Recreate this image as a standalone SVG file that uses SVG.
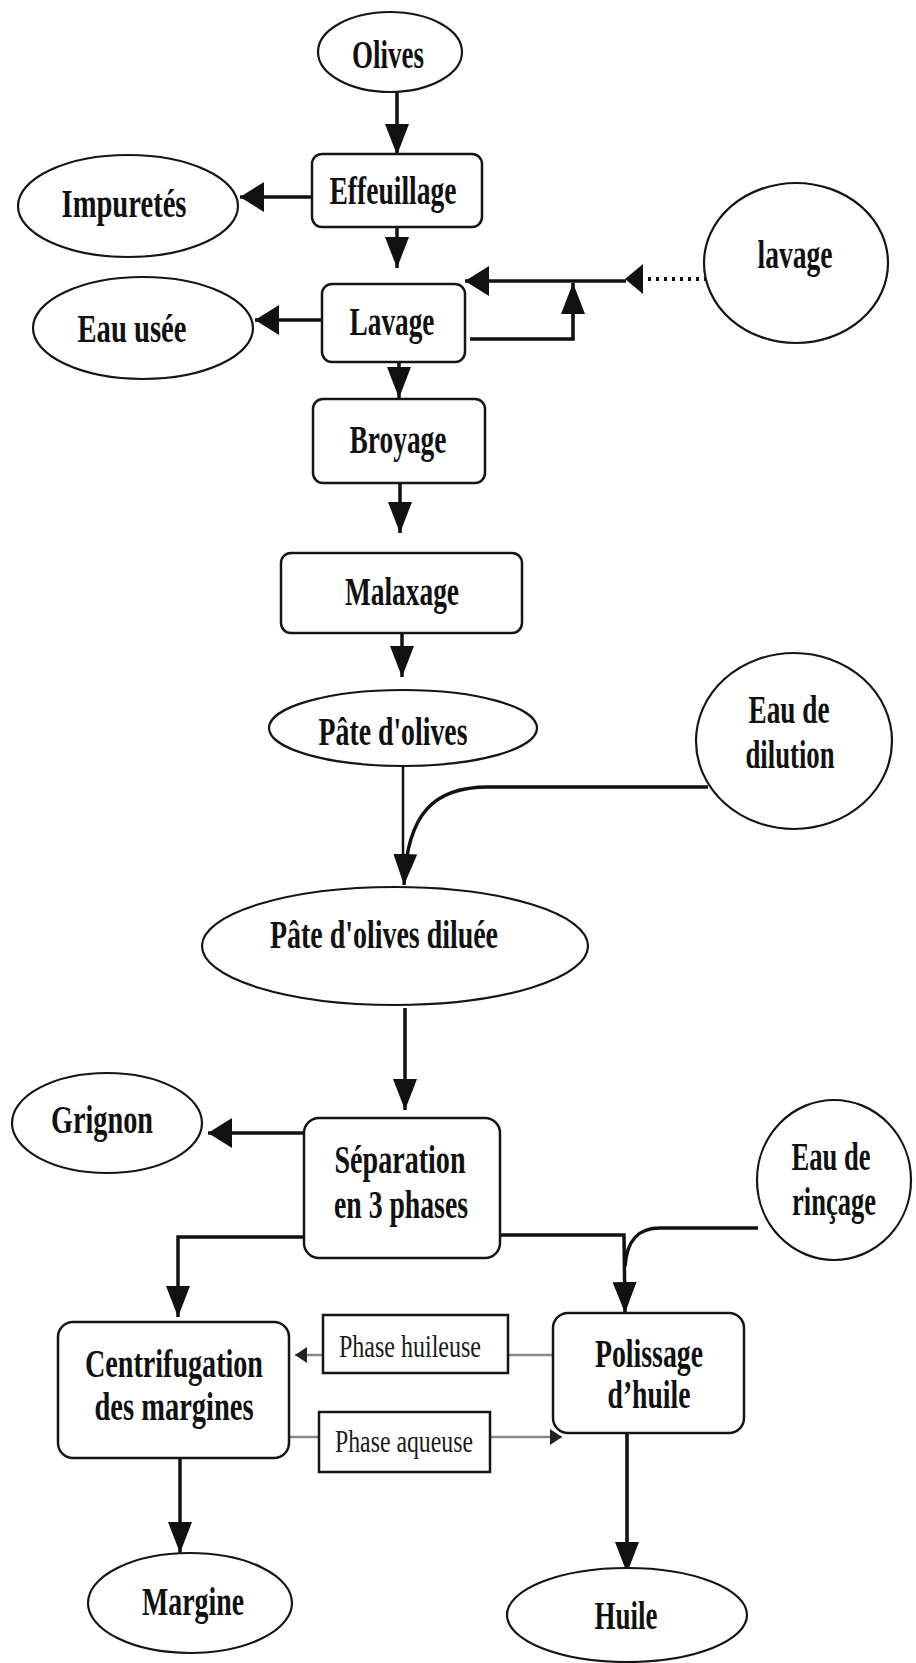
<svg xmlns="http://www.w3.org/2000/svg" width="916" height="1663" viewBox="0 0 916 1663">
<style>
  .n { fill: #fff; stroke: #151515; stroke-width: 2.5; }
  .e { fill: #fff; stroke: #151515; stroke-width: 2.2; }
  .t { font-family: "Liberation Serif", "Times New Roman", serif; font-weight: bold; font-size: 40px; fill: #111; text-anchor: middle; }
  .s { font-family: "Liberation Serif", "Times New Roman", serif; font-size: 31px; fill: #1a1a1a; text-anchor: middle; }
  .c { fill: none; stroke: #111; stroke-width: 3.5; }
  .th { fill: none; stroke: #111; stroke-width: 2.5; }
  .g { fill: none; stroke: #888; stroke-width: 2.5; }
  .d { fill: none; stroke: #111; stroke-width: 4; stroke-dasharray: 3 5; }
</style>
<defs>
  <marker id="av" markerUnits="userSpaceOnUse" markerWidth="32" markerHeight="26" refX="31" refY="12" orient="auto">
    <path d="M0,0 L31,12 L0,24 Z" fill="#111"/>
  </marker>
  <marker id="ah" markerUnits="userSpaceOnUse" markerWidth="26" markerHeight="32" refX="24" refY="15" orient="auto">
    <path d="M0,0 L24,15 L0,30 Z" fill="#111"/>
  </marker>
  <marker id="as" markerUnits="userSpaceOnUse" markerWidth="14" markerHeight="16" refX="12" refY="8" orient="auto">
    <path d="M0,0 L12,8 L0,16 Z" fill="#222"/>
  </marker>
</defs>

<g id="connectors">
  <line class="c" x1="397" y1="92" x2="397" y2="155" marker-end="url(#av)"/>
  <line class="c" x1="312" y1="197" x2="240" y2="197" marker-end="url(#ah)"/>
  <line class="c" x1="397" y1="222" x2="397" y2="268" marker-end="url(#av)"/>
  <line class="c" x1="322" y1="320" x2="255" y2="320" marker-end="url(#ah)"/>
  <line class="d" x1="715" y1="279" x2="645" y2="279"/>
  <path d="M643,264 L625,279 L643,294 Z" fill="#111"/>
  <line class="c" x1="626" y1="281" x2="465" y2="281" marker-end="url(#ah)"/>
  <polyline class="c" points="470,339 573,339 573,283" marker-end="url(#av)"/>
  <line class="c" x1="399" y1="362" x2="399" y2="398" marker-end="url(#av)"/>
  <line class="c" x1="400" y1="483" x2="400" y2="533" marker-end="url(#av)"/>
  <line class="c" x1="402" y1="627" x2="402" y2="677" marker-end="url(#av)"/>
  <line class="th" x1="403" y1="767" x2="403" y2="860"/>
  <path class="c" d="M708,787 L488,787 C435,787 407,812 404,885" stroke-width="4.5" marker-end="url(#av)"/>
  <line class="c" x1="405" y1="1008" x2="405" y2="1110" marker-end="url(#av)"/>
  <line class="c" x1="304" y1="1133" x2="208" y2="1133" marker-end="url(#ah)"/>
  <polyline class="c" points="304,1237 178,1237 178,1317" marker-end="url(#av)"/>
  <polyline class="c" points="500,1235 624,1235 625,1313" marker-end="url(#av)"/>
  <path class="c" d="M758,1228 L660,1228 C638,1228 627,1240 625,1266"/>
  <line class="g" x1="553" y1="1355" x2="508" y2="1355"/>
  <line class="g" x1="323" y1="1355" x2="295" y2="1355" marker-end="url(#as)"/>
  <line class="g" x1="289" y1="1437" x2="319" y2="1437"/>
  <line class="g" x1="490" y1="1437" x2="562" y2="1437" marker-end="url(#as)"/>
  <line class="c" x1="180" y1="1458" x2="180" y2="1553" marker-end="url(#av)"/>
  <line class="c" x1="627" y1="1433" x2="627" y2="1573" marker-end="url(#av)"/>
</g>

<g id="olives"><ellipse class="e" cx="390" cy="52" rx="72" ry="40"/><text class="t" x="388" y="68" textLength="72" lengthAdjust="spacingAndGlyphs">Olives</text></g>
<g id="effeuillage"><rect class="n" x="312" y="154" width="170" height="73" rx="10"/><text class="t" x="393" y="204" textLength="127" lengthAdjust="spacingAndGlyphs">Effeuillage</text></g>
<g id="impuretes"><ellipse class="e" cx="128" cy="206" rx="110" ry="51"/><text class="t" x="124" y="217" textLength="125" lengthAdjust="spacingAndGlyphs">Impuretés</text></g>
<g id="lavage-box"><rect class="n" x="322" y="284" width="143" height="78" rx="10"/><text class="t" x="392" y="335" textLength="85" lengthAdjust="spacingAndGlyphs">Lavage</text></g>
<g id="eau-usee"><ellipse class="e" cx="143" cy="328" rx="110" ry="51"/><text class="t" x="132" y="342" font-size="42" textLength="109" lengthAdjust="spacingAndGlyphs">Eau usée</text></g>
<g id="lavage-water"><ellipse class="e" cx="796" cy="263" rx="92" ry="80"/><text class="t" x="795" y="268" textLength="75" lengthAdjust="spacingAndGlyphs">lavage</text></g>
<g id="broyage"><rect class="n" x="313" y="399" width="172" height="84" rx="10"/><text class="t" x="398" y="453" textLength="97" lengthAdjust="spacingAndGlyphs">Broyage</text></g>
<g id="malaxage"><rect class="n" x="281" y="553" width="241" height="80" rx="10"/><text class="t" x="402" y="605" textLength="114" lengthAdjust="spacingAndGlyphs">Malaxage</text></g>
<g id="pate"><ellipse class="e" cx="403" cy="728" rx="134" ry="38"/><text class="t" x="393" y="745" textLength="149" lengthAdjust="spacingAndGlyphs">Pâte d'olives</text></g>
<g id="eau-dilution"><ellipse class="e" cx="794" cy="741" rx="98" ry="88"/><text class="t" x="789" y="723" textLength="81" lengthAdjust="spacingAndGlyphs">Eau de</text><text class="t" x="790" y="768" textLength="89" lengthAdjust="spacingAndGlyphs">dilution</text></g>
<g id="pate-diluee"><ellipse class="e" cx="395" cy="946" rx="193" ry="59"/><text class="t" x="384" y="948" textLength="228" lengthAdjust="spacingAndGlyphs">Pâte d'olives diluée</text></g>
<g id="grignon"><ellipse class="e" cx="107" cy="1123" rx="95" ry="50"/><text class="t" x="102" y="1133" textLength="102" lengthAdjust="spacingAndGlyphs">Grignon</text></g>
<g id="separation"><rect class="n" x="304" y="1118" width="196" height="140" rx="15"/><text class="t" x="400" y="1173" textLength="131" lengthAdjust="spacingAndGlyphs">Séparation</text><text class="t" x="401" y="1218" textLength="134" lengthAdjust="spacingAndGlyphs">en 3 phases</text></g>
<g id="eau-rincage"><ellipse class="e" cx="834" cy="1180" rx="77" ry="80"/><text class="t" x="831" y="1170" textLength="79" lengthAdjust="spacingAndGlyphs">Eau de</text><text class="t" x="834" y="1215" textLength="84" lengthAdjust="spacingAndGlyphs">rinçage</text></g>
<g id="centrifugation"><rect class="n" x="58" y="1322" width="231" height="136" rx="15"/><text class="t" x="174" y="1377" textLength="178" lengthAdjust="spacingAndGlyphs">Centrifugation</text><text class="t" x="174" y="1420" textLength="159" lengthAdjust="spacingAndGlyphs">des margines</text></g>
<g id="phase-huileuse"><rect class="n" x="323" y="1315" width="185" height="58"/><text class="s" x="410" y="1357" textLength="142" lengthAdjust="spacingAndGlyphs">Phase huileuse</text></g>
<g id="phase-aqueuse"><rect class="n" x="319" y="1412" width="171" height="60"/><text class="s" x="404" y="1452" textLength="138" lengthAdjust="spacingAndGlyphs">Phase aqueuse</text></g>
<g id="polissage"><rect class="n" x="553" y="1313" width="191" height="120" rx="15"/><text class="t" x="649" y="1367" textLength="108" lengthAdjust="spacingAndGlyphs">Polissage</text><text class="t" x="649" y="1408" textLength="83" lengthAdjust="spacingAndGlyphs">d’huile</text></g>
<g id="margine"><ellipse class="e" cx="190" cy="1603" rx="102" ry="50"/><text class="t" x="193" y="1615" textLength="102" lengthAdjust="spacingAndGlyphs">Margine</text></g>
<g id="huile"><ellipse class="e" cx="627" cy="1615" rx="120" ry="47"/><text class="t" x="626" y="1629" textLength="63" lengthAdjust="spacingAndGlyphs">Huile</text></g>
</svg>
